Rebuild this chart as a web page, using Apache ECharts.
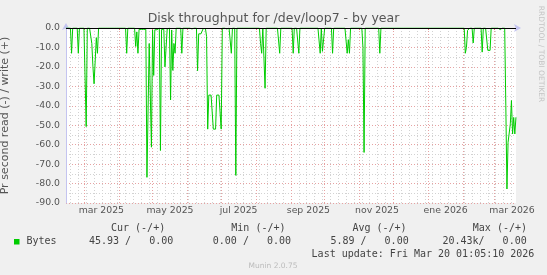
<!DOCTYPE html>
<html><head><meta charset="utf-8">
<script src="https://cdn.jsdelivr.net/npm/echarts@6/dist/echarts.min.js"></script>
<style>html,body{margin:0;padding:0;background:#f0f0f0;}#c{width:547px;height:275px;}</style>
</head><body><div id="c"></div>
<script>
// ---- data ----
const chartTitle = 'Disk throughput for /dev/loop7 - by year';
const yAxisName = 'Pr second read (-) / write (+)';
const startTime = '2025-02-13T01:05:10Z';
const endTime = '2026-03-20T01:05:10Z';
const firstDay = '2025-02-13';
const lastDay = '2026-03-20';
// days with non-zero read throughput (all other days read 0)
const readDates = [
 '2025-02-18','2025-02-24','2025-03-03','2025-03-08','2025-03-09','2025-03-10','2025-03-11','2025-03-12','2025-03-13',
 '2025-04-08','2025-04-16','2025-04-17','2025-04-18','2025-04-19','2025-04-20','2025-04-21','2025-04-22','2025-04-23','2025-04-24','2025-04-25',
 '2025-04-26','2025-04-27','2025-04-28','2025-04-29','2025-04-30','2025-05-01','2025-05-02','2025-05-03','2025-05-04','2025-05-05','2025-05-06',
 '2025-05-08','2025-05-09','2025-05-10','2025-05-11','2025-05-12','2025-05-13','2025-05-14','2025-05-15','2025-05-17','2025-05-18','2025-05-19','2025-05-20','2025-05-21',
 '2025-05-27','2025-06-05','2025-06-06','2025-06-10','2025-06-11','2025-06-12','2025-06-13','2025-06-14','2025-06-15','2025-06-16','2025-06-17',
 '2025-06-18','2025-06-19','2025-06-20','2025-06-21','2025-06-22','2025-06-23','2025-06-24','2025-06-25','2025-06-26','2025-06-27','2025-06-28','2025-06-29','2025-06-30',
 '2025-07-01','2025-07-05','2025-07-06','2025-07-10','2025-07-14','2025-08-05','2025-08-06','2025-08-09','2025-08-22','2025-08-30',
 '2025-09-03','2025-09-08','2025-09-27','2025-09-29','2025-09-30','2025-10-08','2025-10-21','2025-10-22','2025-10-23','2025-11-04','2025-11-05','2025-11-19',
 '2026-02-03','2026-02-04','2026-02-05','2026-02-06','2026-02-10','2026-02-18','2026-02-23','2026-02-24','2026-02-25',
 '2026-03-06','2026-03-07','2026-03-11','2026-03-12','2026-03-13','2026-03-14','2026-03-15','2026-03-16','2026-03-17','2026-03-18','2026-03-19','2026-03-20'
];
const readValues = [
 -13,-13,-50.7,-8,-20,-28.7,-28.7,-5,-13,
 -13,-9.5,-2,-13,-0.7,-0.7,-0.7,-0.7,-0.7,-0.7,-0.7,
 -76.8,-76.8,-8,-35,-61.3,-1,-24.4,-0.9,-0.9,-0.9,-0.9,
 -63,-0.7,-0.7,-0.7,-20,-20,-0.5,-0.5,-37,-1,-21.8,-8,-13,
 -13,-0.5,-0.5,-22,-3,-3,-3,-3,-0.3,-0.3,-0.3,
 -4.3,-52,-34.5,-34.5,-34.5,-34.5,-52,-52,-52,-34.5,-34.5,-34.5,-34.5,
 -52,-0.5,-0.5,-13,-75.8,-8,-13,-31,-13,-0.5,
 -13,-13,-13,-12,-12,-13,-13,-6,-13,-10,-64,-13,
 -13,-10,-1.2,-1.2,-7.7,-12.4,-11.5,-11.5,-11.5,
 -0.8,-0.8,-40,-82.8,-58.8,-58.8,-49.3,-37.3,-54.5,-46,-54.5,-45.93
];
const yMin = -90, yMax = 0, yInterval = 10;
const monthTickDates = ['2025-03-01','2025-04-01','2025-05-01','2025-06-01','2025-07-01','2025-08-01','2025-09-01',
 '2025-10-01','2025-11-01','2025-12-01','2026-01-01','2026-02-01','2026-03-01'];
const xLabelDates = ['2025-03-16T12:00:00Z','2025-05-16T12:00:00Z','2025-07-16T12:00:00Z','2025-09-16T12:00:00Z',
 '2025-11-16T12:00:00Z','2026-01-16T12:00:00Z','2026-03-16T12:00:00Z'];
const xLabelTexts = ['mar 2025','may 2025','jul 2025','sep 2025','nov 2025','ene 2026','mar 2026'];
const seriesName = 'Bytes';
const legendHeaders = ['Cur (-/+)','Min (-/+)','Avg (-/+)','Max (-/+)'];
const legendValues = ['45.93 /   0.00','0.00 /   0.00','5.89 /   0.00','20.43k/   0.00'];
const lastUpdate = 'Last update: Fri Mar 20 01:05:10 2026';
const versionText = 'Munin 2.0.75';
const watermark = 'RRDTOOL / TOBI OETIKER';

// ---- build ----
const DAY = 86400000;
const ts = s => Date.parse(s.length === 10 ? s + 'T00:00:00Z' : s);
const readMap = {};
readDates.forEach((d, i) => { readMap[ts(d)] = readValues[i]; });
const seriesData = [];
for (let t = ts(firstDay); t <= ts(lastDay); t += DAY) seriesData.push([t, readMap[t] !== undefined ? readMap[t] : 0]);

const monthTicks = monthTickDates.map(ts);
// weekly minor grid (Mondays)
const weekTicks = [];
for (let t = ts('2025-02-17'); t <= ts(endTime); t += 7 * DAY) weekTicks.push(t);
const labelTs = xLabelDates.map(ts);
const labelLookup = {};
labelTs.forEach((t, i) => { labelLookup[t] = xLabelTexts[i]; });

const SANS = 'DejaVu Sans';
const majorColor = '#e6a2a2', minorColor = '#d2d2d2', axisColor = '#c4c4f0';

const chart = echarts.init(document.getElementById('c'), null, {renderer: 'canvas'});
const legendX = [111, 231.3, 352.4, 472.8];
const valueX = [89, 212.8, 330.4, 442.4];
const graphics = [
  {type: 'text', left: 'center', top: 12.5, style: {text: chartTitle, font: '12.5px "DejaVu Sans"', fill: '#555'}},
  {type: 'text', x: 541, y: 54, rotation: -Math.PI / 2, style: {text: watermark, font: '7.5px "DejaVu Sans"', fill: '#c4c4c4', align: 'center', verticalAlign: 'middle'}},
  {type: 'rect', shape: {x: 14, y: 239, width: 5.5, height: 5.5}, style: {fill: '#00cc00'}},
  {type: 'text', x: 26.5, y: 241.5, style: {text: seriesName, font: '10px "DejaVu Sans Mono"', fill: '#444', verticalAlign: 'middle'}},
  {type: 'text', x: 311.6, y: 254.2, style: {text: lastUpdate, font: '10px "DejaVu Sans Mono"', fill: '#444', verticalAlign: 'middle'}},
  {type: 'text', x: 273, y: 266.3, style: {text: versionText, font: '7.5px "DejaVu Sans"', fill: '#bbb', align: 'center', verticalAlign: 'middle'}}
];
legendHeaders.forEach((h, i) => graphics.push({type: 'text', x: legendX[i], y: 228.6, style: {text: h, font: '10px "DejaVu Sans Mono"', fill: '#444', verticalAlign: 'middle'}}));
legendValues.forEach((v, i) => graphics.push({type: 'text', x: valueX[i], y: 241.5, style: {text: v, font: '10px "DejaVu Sans Mono"', fill: '#444', verticalAlign: 'middle'}}));

chart.setOption({
  animation: false,
  backgroundColor: '#f0f0f0',
  grid: {left: 66, right: 31, top: 28, height: 175, show: true, backgroundColor: '#ffffff', borderWidth: 0,
         containLabel: false, outerBoundsMode: 'none'},
  xAxis: [
    {type: 'value', min: ts(startTime), max: ts(endTime), position: 'bottom', z: 3,
     axisLine: {show: true, lineStyle: {color: axisColor, width: 1}, symbol: ['none', 'arrow'], symbolSize: [6, 7], symbolOffset: [0, 5]},
     axisTick: {show: true, customValues: monthTicks, length: 2, lineStyle: {color: '#e07070'}},
     splitLine: {show: true, lineStyle: {color: majorColor, width: 1, type: [1, 2]}},
     axisLabel: {customValues: labelTs, formatter: v => labelLookup[v] || '', fontFamily: SANS, fontSize: 9.33, color: '#555', margin: 3, hideOverlap: false}},
    {type: 'value', min: ts(startTime), max: ts(endTime), position: 'bottom', z: 1,
     axisLine: {show: false}, axisLabel: {show: false},
     axisTick: {show: false, customValues: weekTicks},
     splitLine: {show: true, lineStyle: {color: minorColor, width: 1, type: [1, 2]}}}
  ],
  yAxis: {type: 'value', min: yMin, max: yMax, interval: yInterval,
    axisLine: {show: true, lineStyle: {color: axisColor, width: 1}, symbol: ['none', 'arrow'], symbolSize: [6, 7], symbolOffset: [0, 5]},
    axisTick: {show: false},
    axisLabel: {formatter: v => (Math.abs(v) < 1e-9 ? 0 : v).toFixed(1), fontFamily: SANS, fontSize: 9.33, color: '#555', margin: 6},
    splitLine: {show: true, lineStyle: {color: majorColor, width: 1, type: [1, 2]}},
    minorTick: {show: false, splitNumber: 2},
    minorSplitLine: {show: true, lineStyle: {color: minorColor, width: 1, type: [1, 2]}},
    name: yAxisName, nameLocation: 'middle', nameGap: 55, nameRotate: 90,
    nameTextStyle: {fontFamily: SANS, fontSize: 11, color: '#555'}},
  series: [{
    type: 'line', name: seriesName, data: seriesData, xAxisIndex: 0, yAxisIndex: 0,
    symbol: 'none', showSymbol: false, z: 3,
    lineStyle: {color: '#00cc00', width: 1}, itemStyle: {color: '#00cc00'},
    markLine: {silent: true, symbol: 'none', label: {show: false}, animation: false,
      lineStyle: {color: '#000000', width: 1, type: 'solid'}, data: [{yAxis: 0}]}
  }],
  graphic: graphics
});
</script></body></html>
